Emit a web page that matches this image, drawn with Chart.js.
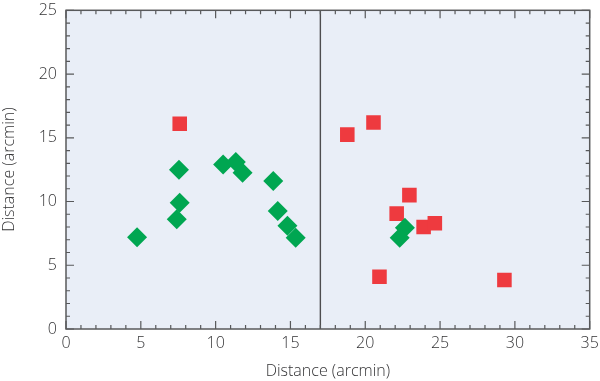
<!DOCTYPE html>
<html lang="en">
<head>
  <meta charset="UTF-8" />
  <title>Distance scatter</title>
  <script src="https://cdn.jsdelivr.net/npm/chart.js"></script>
  <style>
    body { margin: 0; background: #fff; }
    #wrap { width: 600px; height: 381px; }
  </style>
</head>
<body>
  <div id="wrap"><canvas id="chart"></canvas></div>
  <script>
    // green diamonds
    const greenX = [4.75, 7.55, 7.6, 7.4, 10.5, 11.35, 11.8, 13.85, 14.15, 14.8, 15.35, 22.65, 22.3];
    const greenY = [7.2, 12.5, 9.9, 8.6, 12.9, 13.1, 12.25, 11.6, 9.25, 8.1, 7.15, 7.95, 7.15];
    // red squares
    const redX = [7.6, 18.8, 20.55, 22.95, 22.1, 23.9, 24.65, 20.95, 29.3];
    const redY = [16.1, 15.25, 16.2, 10.5, 9.05, 8.0, 8.3, 4.1, 3.85];
    // divider
    const dividerX = 17;
    const xTicks = [0, 5, 10, 15, 20, 25, 30, 35];
    const yTicks = [0, 5, 10, 15, 20, 25];

    const toPts = (xs, ys) => xs.map((x, i) => ({ x: x, y: ys[i] }));

    const axisColor = '#58595b';
    const textColor = '#333335';
    const labelFont = { family: 'Open Sans', size: 16, weight: '300' };

    // background, frame with inward major/minor ticks, and tick labels
    const framePlugin = {
      id: 'frame',
      beforeDraw(chart) {
        const a = chart.chartArea, ctx = chart.ctx;
        ctx.save();
        ctx.fillStyle = '#e9eef7';
        ctx.fillRect(a.left, a.top, a.right - a.left, a.bottom - a.top);
        ctx.restore();
      },
      afterDraw(chart) {
        const a = chart.chartArea, ctx = chart.ctx;
        const xs = chart.scales.x, ys = chart.scales.y;
        ctx.save();
        ctx.strokeStyle = axisColor;
        ctx.lineWidth = 1.5;
        ctx.strokeRect(a.left, a.top, a.right - a.left, a.bottom - a.top);
        ctx.lineWidth = 1.2;
        ctx.beginPath();
        for (let v = 0; v <= 35; v++) {
          const px = xs.getPixelForValue(v);
          const len = v % 5 === 0 ? 8 : 4;
          ctx.moveTo(px, a.bottom); ctx.lineTo(px, a.bottom - len);
          ctx.moveTo(px, a.top); ctx.lineTo(px, a.top + len);
        }
        for (let v = 0; v <= 25; v++) {
          const py = ys.getPixelForValue(v);
          const len = v % 5 === 0 ? 8 : 4;
          ctx.moveTo(a.left, py); ctx.lineTo(a.left + len, py);
          ctx.moveTo(a.right, py); ctx.lineTo(a.right - len, py);
        }
        ctx.stroke();

        ctx.fillStyle = textColor;
        ctx.font = '300 16px "Open Sans"';
        ctx.textBaseline = 'middle';
        ctx.textAlign = 'center';
        xTicks.forEach(v => ctx.fillText(String(v), xs.getPixelForValue(v), a.bottom + 14.6));
        ctx.textAlign = 'right';
        // top label sits a little lower so it is not cut off
        yTicks.forEach(v => ctx.fillText(String(v), a.left - 9, Math.max(ys.getPixelForValue(v), 10)));
        ctx.restore();
      }
    };

    const chart = new Chart(document.getElementById('chart'), {
      type: 'scatter',
      data: {
        datasets: [
          {
            label: 'divider',
            type: 'line',
            data: [{ x: dividerX, y: 0 }, { x: dividerX, y: 25 }],
            borderColor: '#4d4d4f',
            borderWidth: 1.4,
            pointRadius: 0,
            showLine: true
          },
          {
            label: 'green',
            data: toPts(greenX, greenY),
            pointStyle: 'rectRot',
            pointRadius: 10,
            backgroundColor: '#00a651',
            borderColor: '#00a651',
            borderWidth: 0
          },
          {
            label: 'red',
            data: toPts(redX, redY),
            pointStyle: 'rect',
            pointRadius: 10.3,
            backgroundColor: '#ee3a3f',
            borderColor: '#ee3a3f',
            borderWidth: 0
          }
        ]
      },
      options: {
        responsive: true,
        maintainAspectRatio: false,
        animation: false,
        layout: { padding: { top: 6, right: 9, left: 0, bottom: 0 } },
        plugins: { legend: { display: false }, tooltip: { enabled: false } },
        scales: {
          x: {
            type: 'linear',
            min: 0, max: 35,
            afterFit: s => { s.height = 52; },
            grid: { display: false, drawTicks: false },
            border: { display: false },
            ticks: { display: false },
            title: { display: true, text: 'Distance (arcmin)', color: textColor, font: labelFont, padding: { top: 0, bottom: 0 } }
          },
          y: {
            type: 'linear',
            min: 0, max: 25,
            afterFit: s => { s.width = 66; },
            grid: { display: false, drawTicks: false },
            border: { display: false },
            ticks: { display: false },
            title: { display: true, text: 'Distance (arcmin)', color: textColor, font: labelFont, padding: { top: 0, bottom: 0 } }
          }
        }
      },
      plugins: [framePlugin]
    });
  </script>
</body>
</html>
